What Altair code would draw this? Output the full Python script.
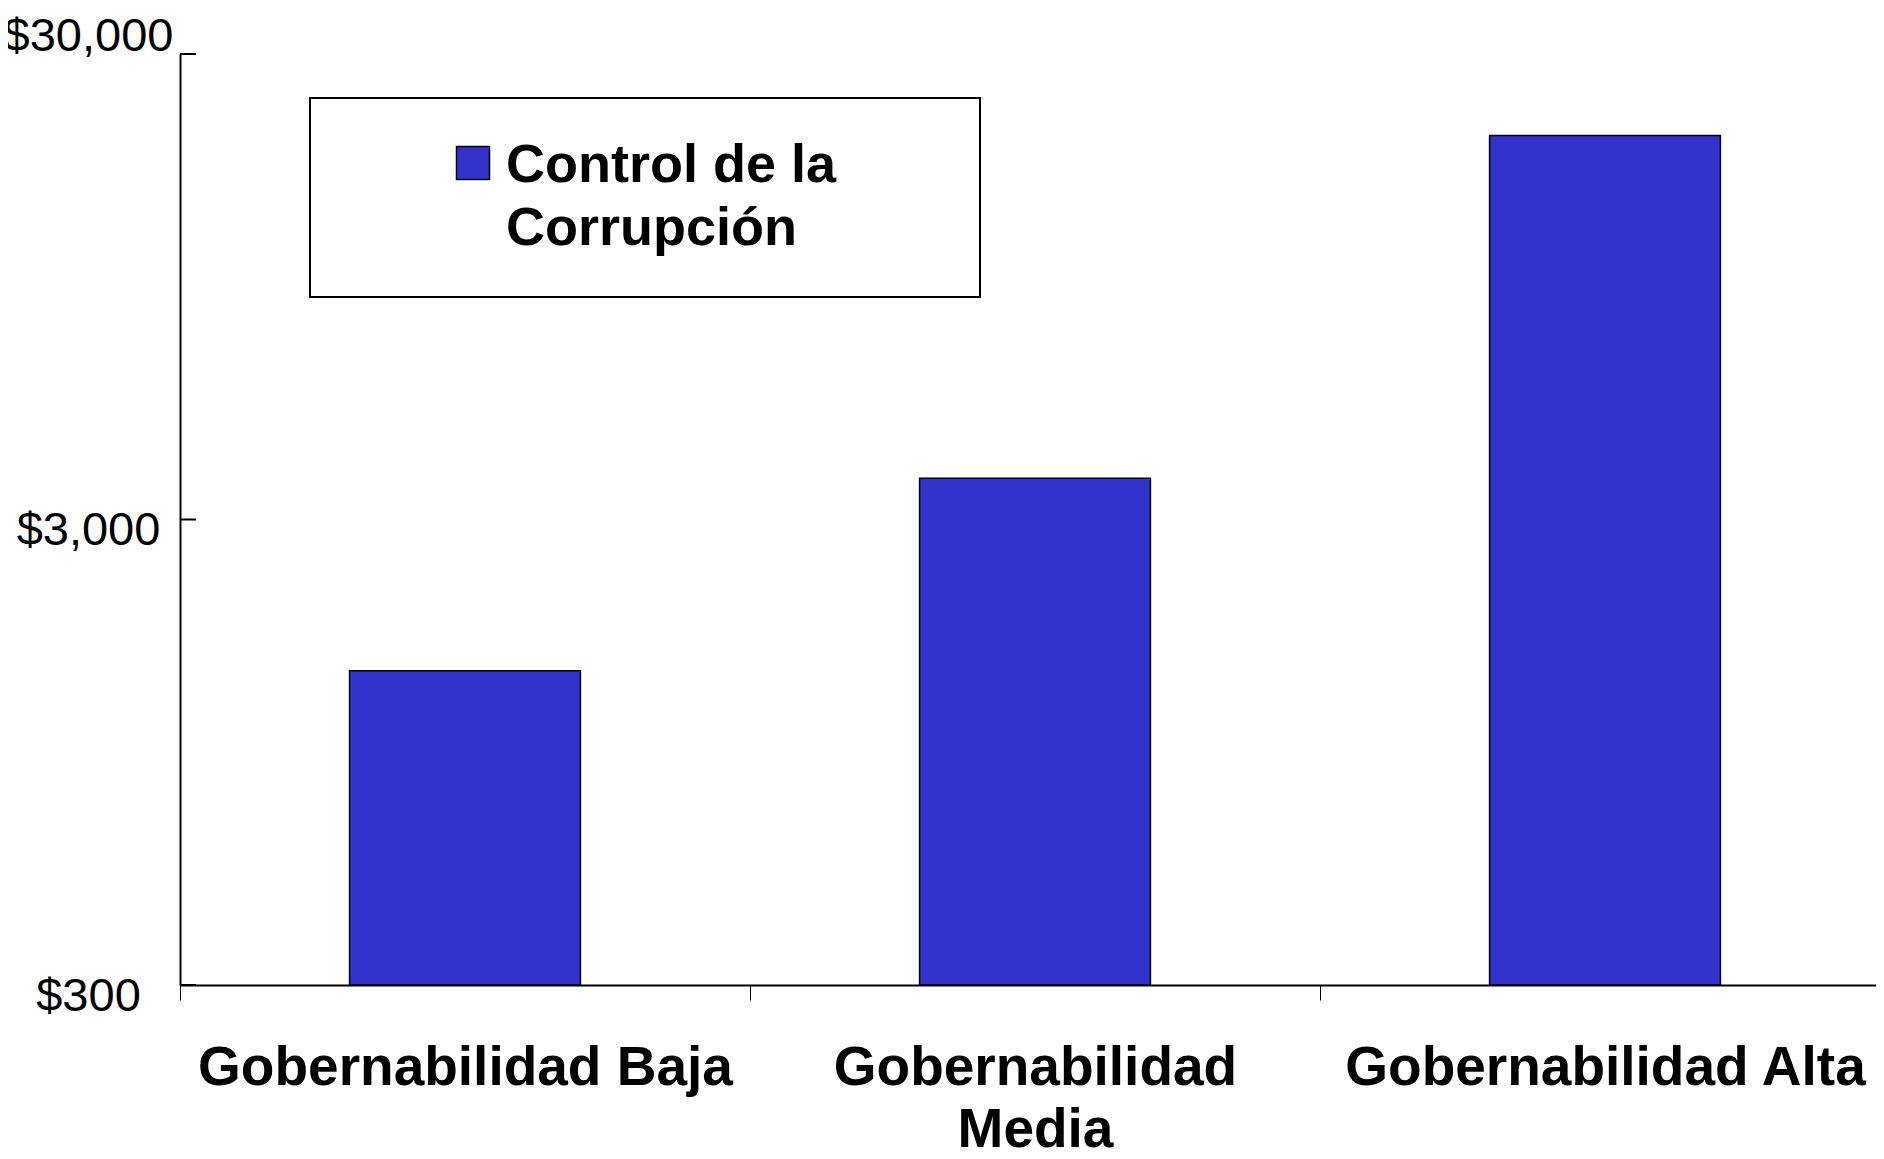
import altair as alt
import pandas as pd

# ---- data ----
categories = ["Gobernabilidad Baja", "Gobernabilidad Media", "Gobernabilidad Alta"]
values = [1420, 3680, 20050]
series_name = "Control de la Corrupción"
y_ticks = [300, 3000, 30000]

df = pd.DataFrame({"cat": categories, "val": values, "serie": [series_name] * len(categories)})
ticks_df = pd.DataFrame({"t": y_ticks})

FONT = "Liberation Sans"
BAR = "#3333CC"

yscale = alt.Scale(type="log", domain=[y_ticks[0], y_ticks[-1]])

y_axis = alt.Axis(
    values=y_ticks,
    format="$,.0f",
    labelFont=FONT,
    labelFontSize=47,
    labelColor="black",
    labelAlign="center",
    labelBaseline="middle",
    labelPadding=92,
    labelLimit=0,
    labelOffset={"condition": {"test": "datum.value > 10000", "value": -18}, "value": 11},
    ticks=False,
    domainColor="black",
    domainWidth=2,
    grid=False,
)

bars = alt.Chart(df).transform_calculate(
    base=str(y_ticks[0])
).mark_bar(stroke="black", strokeWidth=1.5, width=alt.RelativeBandSize(0.405)).encode(
    x=alt.X(
        "cat:N",
        sort=categories,
        title=None,
        scale=alt.Scale(paddingInner=0, paddingOuter=0),
        axis=alt.Axis(
            labelAngle=0,
            labelFont=FONT,
            labelFontSize=55,
            labelFontWeight="bold",
            labelColor="black",
            labelLimit=0,
            labelPadding=41,
            labelLineHeight=62,
            labelExpr="datum.label == 'Gobernabilidad Media' ? ['Gobernabilidad', 'Media'] : datum.label",
            tickBand="extent",
            tickSize=15,
            tickColor="black",
            tickWidth=1,
            domainColor="black",
            domainWidth=2,
            grid=False,
        ),
    ),
    y=alt.Y("val:Q", scale=yscale, title=None, axis=y_axis),
    y2="base:Q",
    color=alt.Color(
        "serie:N",
        scale=alt.Scale(range=[BAR]),
        legend=alt.Legend(
            title="\u00a0",
            titleOrient="right",
            titleFontSize=8,
            titlePadding=103,
            orient="none",
            legendX=130,
            legendY=44,
            padding=41,
            fillColor="white",
            strokeColor="black",
            labelFont=FONT,
            labelFontSize=54,
            labelFontWeight="bold",
            labelColor="black",
            labelLimit=0,
            labelOffset=6,
            labelExpr="datum.label == 'Control de la Corrupción' ? ['Control de la', 'Corrupción'] : datum.label",
            symbolType="M-1,-1.18H1V0.82H-1Z",
            symbolSize=1089,
            symbolOffset=95,
            symbolStrokeColor="black",
            symbolStrokeWidth=1.5,
            symbolFillColor=BAR,
        ),
    ),
)

tick_rules = alt.Chart(ticks_df).mark_rule(color="black", strokeWidth=2).encode(
    y=alt.Y("t:Q", scale=yscale, title=None, axis=y_axis),
    x=alt.value(0),
    x2=alt.value(16),
)

chart = (
    alt.layer(bars, tick_rules)
    .properties(
        width=1710,
        height=931,
        autosize=alt.AutoSizeParams(type="none"),
        padding=alt.ExprRef("{left: 172, top: 46, right: -14, bottom: 166}"),
    )
    .configure(style={"guide-label": {"lineHeight": 63}})
    .configure_view(stroke=None)
    .configure_legend(strokeWidth=2)
)

chart.save("out.html", embed_options={"renderer": "svg", "actions": False})
